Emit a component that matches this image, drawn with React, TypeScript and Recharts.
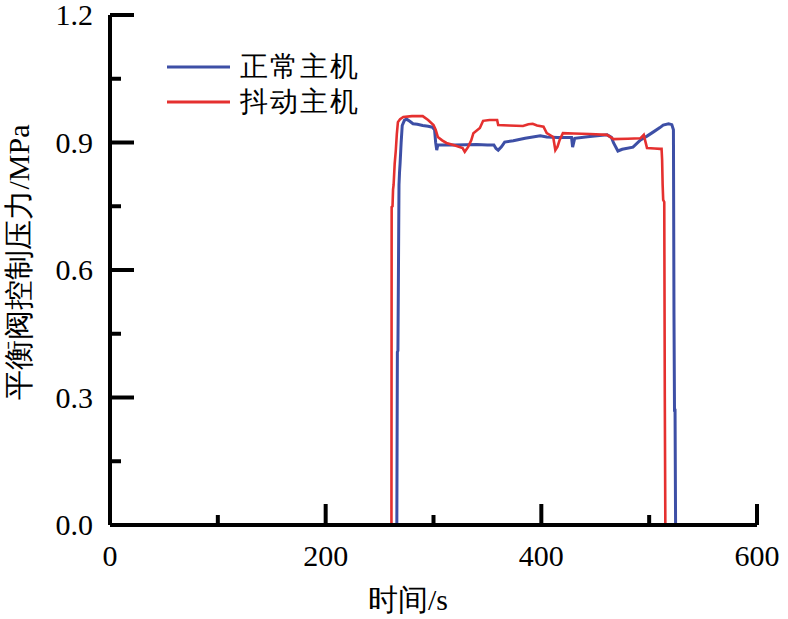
import React from 'react';
import { LineChart, Line, XAxis, YAxis, Legend, Label } from 'recharts';

const xTicks = [0, 100, 200, 300, 400, 500, 600];
const xLabels = ['0', '', '200', '', '400', '', '600'];
const yTicks = [0, 0.15, 0.3, 0.45, 0.6, 0.75, 0.9, 1.05, 1.2];
const yLabels = ['0.0', '', '0.3', '', '0.6', '', '0.9', '', '1.2'];

const seriesNames = ['正常主机', '抖动主机'];
const seriesColors = ['#3D4FA6', '#E5302F'];

// 正常主机 (time s, pressure MPa)
const normalT = [266, 266.5, 267, 267.5, 268, 268.5, 269, 270, 271, 273, 275, 278, 281, 285, 290, 295, 299, 301, 302, 303, 304, 320, 340, 350, 356, 358, 360, 363, 366, 374, 385, 399, 405, 415, 428, 429, 431, 445, 461, 465, 467, 471, 475, 485, 492, 498, 504, 510, 513, 518, 521, 522.5, 523, 523.5, 524, 524.5];
const normalP = [0, 0.407, 0.41, 0.6, 0.8, 0.83, 0.85, 0.9, 0.94, 0.952, 0.955, 0.95, 0.944, 0.943, 0.94, 0.938, 0.936, 0.93, 0.9, 0.882, 0.894, 0.894, 0.895, 0.894, 0.894, 0.886, 0.882, 0.89, 0.901, 0.904, 0.91, 0.916, 0.913, 0.912, 0.912, 0.889, 0.91, 0.914, 0.918, 0.912, 0.899, 0.88, 0.884, 0.889, 0.906, 0.915, 0.925, 0.935, 0.941, 0.944, 0.942, 0.93, 0.5, 0.27, 0.27, 0];

// 抖动主机
const shakeT = [261, 261.2, 262, 262.5, 263, 264, 265, 266, 267, 269, 272, 280, 290, 295, 300, 302, 304, 308, 312, 320, 327, 329, 332, 335, 337, 343, 346, 352, 359, 360, 370, 383, 388, 392, 396, 402, 405, 411, 413, 415, 417, 420, 430, 445, 461, 467, 480, 492, 495, 498, 505, 510, 511.5, 512, 512.5, 513, 514, 514.5, 515];
const shakeP = [0, 0.748, 0.75, 0.79, 0.8, 0.85, 0.88, 0.92, 0.948, 0.955, 0.96, 0.962, 0.962, 0.953, 0.941, 0.93, 0.913, 0.905, 0.899, 0.893, 0.887, 0.878, 0.889, 0.905, 0.922, 0.934, 0.951, 0.953, 0.953, 0.941, 0.94, 0.939, 0.943, 0.944, 0.94, 0.937, 0.922, 0.913, 0.882, 0.89, 0.906, 0.922, 0.921, 0.92, 0.918, 0.908, 0.909, 0.91, 0.918, 0.887, 0.886, 0.885, 0.885, 0.86, 0.8, 0.765, 0.76, 0.3, 0];

const normalData = normalT.map((t, i) => ({ t, p: normalP[i] }));
const shakeData = shakeT.map((t, i) => ({ t, p: shakeP[i] }));

const FONT = "'Times New Roman', 'Liberation Serif', serif";

const XTick = (props: any) => {
  const { x, y, payload } = props;
  const i = xTicks.indexOf(payload.value);
  const label = i >= 0 ? xLabels[i] : '';
  const len = label ? 21 : 10;
  return (
    <g>
      {payload.value !== 0 && (
        <line x1={x} x2={x} y1={y} y2={y - len} stroke="#000" strokeWidth={4} />
      )}
      {label && (
        <text x={x} y={y + 41} textAnchor="middle" fontFamily={FONT} fontSize={30} fill="#000">
          {label}
        </text>
      )}
    </g>
  );
};

const YTick = (props: any) => {
  const { x, y, payload } = props;
  const i = yTicks.findIndex((v) => Math.abs(v - payload.value) < 1e-6);
  const label = i >= 0 ? yLabels[i] : '';
  const len = label ? 24 : 11;
  return (
    <g>
      {payload.value !== 0 && (
        <line x1={x} x2={x + len} y1={y} y2={y} stroke="#000" strokeWidth={4} />
      )}
      {label && (
        <text x={x - 17} y={y + 10} textAnchor="end" fontFamily={FONT} fontSize={30} fill="#000">
          {label}
        </text>
      )}
    </g>
  );
};

const LegendContent = () => (
  <svg width={220} height={75} style={{ display: 'block' }}>
    {seriesNames.map((name, i) => (
      <g key={name}>
        <line x1={7} x2={70} y1={22 + i * 35} y2={22 + i * 35} stroke={seriesColors[i]} strokeWidth={3} />
        <text x={80} y={31 + i * 35} fontFamily={FONT} fontSize={28} letterSpacing={2} fill="#000">
          {name}
        </text>
      </g>
    ))}
  </svg>
);

export default function App() {
  return (
    <div style={{ position: 'absolute', left: 0, top: 0, width: 788, height: 619, background: '#fff' }}>
      <LineChart width={788} height={619} margin={{ top: 15, right: 31, left: 0, bottom: 0 }}>
        <XAxis
          type="number"
          dataKey="t"
          domain={[0, 600]}
          ticks={xTicks}
          interval={0}
          height={94}
          tickSize={0}
          tickMargin={0}
          tickLine={false}
          axisLine={{ stroke: '#000', strokeWidth: 4 }}
          tick={<XTick />}
          allowDataOverflow
        >
          <Label
            content={() => (
              <text x={408} y={610} textAnchor="middle" fontFamily={FONT} fontSize={30} fill="#000">
                时间/s
              </text>
            )}
          />
        </XAxis>
        <YAxis
          type="number"
          dataKey="p"
          domain={[0, 1.2]}
          ticks={yTicks}
          interval={0}
          width={110}
          tickSize={0}
          tickMargin={0}
          tickLine={false}
          axisLine={{ stroke: '#000', strokeWidth: 4 }}
          tick={<YTick />}
          allowDataOverflow
        >
          <Label
            content={() => (
              <text
                x={29}
                y={262}
                textAnchor="middle"
                fontFamily={FONT}
                fontSize={30}
                fill="#000"
                transform="rotate(-90, 29, 262)"
              >
                平衡阀控制压力/MPa
              </text>
            )}
          />
        </YAxis>
        <Legend
          layout="vertical"
          align="center"
          verticalAlign="middle"
          content={<LegendContent />}
          wrapperStyle={{ position: 'absolute', left: 160, top: 45, width: 220, height: 75, margin: 0 }}
        />
        <Line
          data={normalData}
          dataKey="p"
          name={seriesNames[0]}
          type="linear"
          stroke={seriesColors[0]}
          strokeWidth={3}
          dot={false}
          isAnimationActive={false}
        />
        <Line
          data={shakeData}
          dataKey="p"
          name={seriesNames[1]}
          type="linear"
          stroke={seriesColors[1]}
          strokeWidth={2.6}
          dot={false}
          isAnimationActive={false}
        />
      </LineChart>
    </div>
  );
}
